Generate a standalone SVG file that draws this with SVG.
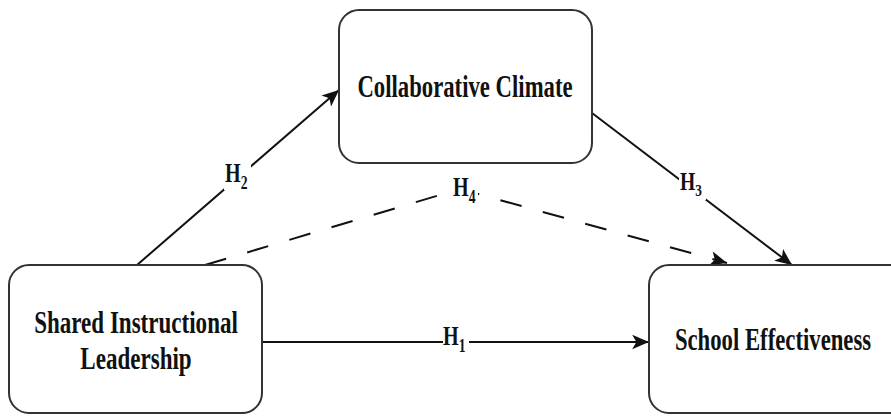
<svg xmlns="http://www.w3.org/2000/svg" width="891" height="416" viewBox="0 0 891 416">
<style>
.box{fill:#fff;stroke:#333;stroke-width:2}
.lbl{font-family:"Liberation Serif","Times New Roman",serif;font-weight:bold;fill:#111}
.node{font-size:32px}
.h{font-size:28px}
.sub{font-size:19px}
.edge{fill:none;stroke:#111;stroke-width:2}
.dash{stroke-dasharray:22 22}
.bg{fill:#fff}
</style>
<defs>
<marker id="arr" markerUnits="userSpaceOnUse" markerWidth="20" markerHeight="20" viewBox="-1 -9 19 18" refX="16" refY="0" orient="auto">
<path d="M0,-7 L16,0 L0,7 L4,0 z" fill="#111"/>
</marker>
</defs>
<rect width="891" height="416" fill="#fff"/>
<g id="connectors">
<path class="edge" d="M262,342 L649,342" marker-end="url(#arr)"/>
<path class="edge" d="M137,265 L339,90" marker-end="url(#arr)"/>
<path class="edge" d="M592,113 L792,265" marker-end="url(#arr)"/>
<path class="edge dash" d="M205,265 L460,189 L727,263" marker-end="url(#arr)"/>
<g id="label-H1"><rect class="bg" x="443" y="326" width="26" height="28"/><text class="lbl h" transform="translate(443,345) scale(0.72,1)">H<tspan class="sub" dy="7">1</tspan></text></g>
<g id="label-H2"><rect class="bg" x="224" y="162" width="27" height="28"/><text class="lbl h" transform="translate(225,182) scale(0.72,1)">H<tspan class="sub" dy="7">2</tspan></text></g>
<g id="label-H3"><rect class="bg" x="679" y="173" width="27" height="27"/><text class="lbl h" transform="translate(680,190) scale(0.7,0.9)">H<tspan class="sub" dy="7">3</tspan></text></g>
<g id="label-H4"><rect class="bg" x="452" y="177" width="26" height="27"/><text class="lbl h" transform="translate(453,196) scale(0.72,1)">H<tspan class="sub" dy="7">4</tspan></text></g>
</g>
<g id="node-cc">
<rect class="box" x="339" y="10" width="253" height="153" rx="20"/>
<text class="lbl node" text-anchor="middle" transform="translate(465,97) scale(0.71,1)">Collaborative Climate</text>
</g>
<g id="node-sil">
<rect class="box" x="9" y="265" width="253" height="148" rx="20"/>
<text class="lbl node" text-anchor="middle" transform="translate(136,333) scale(0.72,1)">Shared Instructional</text>
<text class="lbl node" text-anchor="middle" transform="translate(136,369) scale(0.72,1)">Leadership</text>
</g>
<g id="node-se">
<rect class="box" x="649" y="265" width="260" height="148" rx="20"/>
<text class="lbl node" text-anchor="middle" transform="translate(773,350) scale(0.71,1)">School Effectiveness</text>
</g>
</svg>
